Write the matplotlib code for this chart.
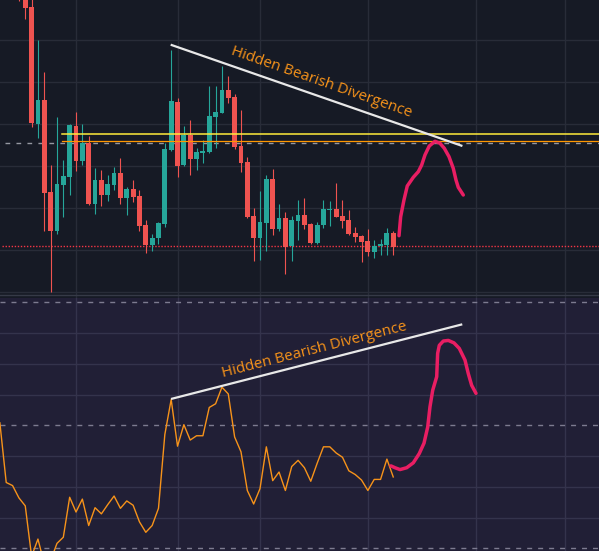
#------------------------------#
# IMPORT LIBRARIES
#------------------------------#

import numpy as np
import matplotlib
matplotlib.use('Agg')
import matplotlib.pyplot as plt

#------------------------------#
# DATA
#------------------------------#

# candles, one per bar (bar 0 is the first one that shows at the top)
opens = [53.5, 51.0, 49.3, 37.63, 40.0, 30.8, 26.93, 31.5, 32.33, 37.4,
         33.93, 35.67, 29.63, 32.0, 30.53, 31.5, 32.7, 30.23, 31.1, 30.4,
         27.5, 25.53, 26.2, 27.63, 35.0, 39.8, 33.5, 36.5, 34.13, 34.73,
         34.8, 38.3, 38.7, 41.0, 40.3, 35.4, 33.77, 28.4, 26.23, 27.73,
         32.1, 27.13, 28.2, 25.43, 27.93, 28.5, 27.6, 25.73, 27.5, 29.03,
         29.1, 28.4, 28.0, 26.7, 26.4, 25.9, 24.83, 25.43, 25.53, 26.7]
highs = [54.0, 51.5, 50.2, 46.0, 42.8, 33.5, 38.3, 34.0, 37.6, 38.8,
         37.6, 36.4, 33.2, 33.0, 32.5, 33.3, 34.2, 31.3, 32.0, 31.0,
         28.0, 26.6, 27.83, 35.67, 45.0, 40.2, 37.4, 38.0, 35.2, 36.0,
         41.4, 41.4, 43.4, 42.4, 40.6, 39.0, 34.33, 29.2, 30.9, 32.5,
         33.1, 29.6, 28.8, 28.4, 30.0, 30.2, 27.7, 27.8, 30.0, 29.9,
         31.7, 30.0, 29.0, 27.3, 26.5, 27.1, 26.0, 26.1, 27.2, 26.9]
lows = [49.9, 48.1, 37.33, 36.23, 26.93, 20.83, 26.63, 28.33, 30.53, 32.93,
        33.53, 29.53, 28.63, 29.43, 29.93, 31.03, 29.63, 28.53, 29.83, 26.93,
        24.73, 24.93, 25.63, 27.33, 34.9, 32.33, 33.4, 32.53, 33.03, 33.73,
        34.73, 35.23, 38.7, 39.7, 35.1, 32.8, 28.2, 23.93, 24.03, 24.93,
        26.53, 26.93, 22.63, 23.93, 26.03, 27.13, 25.63, 25.63, 27.2, 27.43,
        28.3, 27.23, 26.53, 25.83, 23.83, 24.43, 24.23, 24.53, 24.53, 24.53]
closes = [51.2, 49.2, 37.73, 40.0, 30.73, 26.93, 31.6, 32.4, 37.5, 33.93,
          35.67, 29.63, 32.0, 30.53, 31.6, 32.7, 30.23, 31.1, 30.33, 27.43,
          25.53, 26.2, 27.73, 35.1, 39.9, 33.4, 36.5, 34.13, 34.8, 34.9,
          38.4, 38.8, 41.0, 40.2, 35.3, 33.7, 28.33, 26.23, 27.83, 32.1,
          27.13, 28.2, 25.33, 28.0, 28.5, 27.53, 25.73, 27.5, 29.1, 29.1,
          28.3, 27.93, 26.63, 26.33, 25.83, 24.83, 25.43, 25.6, 26.7, 25.33]

# oscillator, starts three bars before the first candle
rsi_start = -3
rsi = [50.4, 40.7, 40.2,
       38.2, 36.9, 28.7, 31.5, 27.5, 28.0, 30.8, 31.8, 38.3, 35.9,
       38.0, 33.7, 36.6, 35.6, 37.1, 38.5, 36.5, 37.7, 37.0, 34.3,
       32.6, 33.7, 36.5, 48.5, 54.2, 46.6, 50.1, 47.6, 48.3, 48.3,
       52.9, 53.5, 56.2, 55.1, 48.1, 45.7, 39.4, 37.2, 39.7, 46.5,
       41.0, 42.4, 39.4, 43.3, 44.3, 43.1, 40.9, 43.8, 46.5, 46.5,
       45.5, 44.8, 42.6, 42.0, 41.1, 39.4, 41.2, 41.2, 44.5, 41.6]

# horizontal levels on the price chart
yellow_level = 36.57
orange_level = 35.87
gray_level = 35.67
red_level = 25.37

# divergence lines (bar, value)
price_div_bars = [23.92, 69.9]
price_div_vals = [45.53, 35.4]
rsi_div_bars = [23.97, 69.88]
rsi_div_vals = [54.28, 66.42]
div_label = 'Hidden Bearish Divergence'

# hand drawn forecast paths (bar, value)
price_path_bars = [59.91, 60.17, 60.69, 61.21, 62.16, 62.95, 63.48, 64.0, 64.68,
                   65.58, 66.37, 67.05, 67.79, 68.46, 68.89, 69.25, 70.04]
price_path_vals = [26.43, 28.33, 30.0, 31.4, 32.27, 32.83, 33.5, 34.5, 35.4,
                   35.87, 35.67, 35.17, 34.33, 33.17, 32.0, 31.27, 30.5]
rsi_path_bars = [58.64, 59.28, 60.06, 61.12, 62.16, 63.1, 63.85, 64.43, 64.79,
                 65.22, 65.85, 66.0, 66.26, 66.89, 67.68, 68.57, 69.41, 70.31,
                 70.83, 71.36, 72.04]
rsi_path_vals = [43.4, 43.1, 42.8, 43.1, 43.9, 45.4, 47.1, 49.7, 53.0,
                 55.7, 57.9, 61.7, 63.0, 63.7, 63.8, 63.4, 62.5, 60.6,
                 58.4, 56.5, 55.2]

# grid
time_grid = [9, 25, 38, 55, 72, 86]
price_grid = [20.8, 25.0, 29.2, 33.4, 37.6, 41.8, 46.0]
rsi_grid = [35, 40, 45, 55, 60, 65]
rsi_levels = [30, 50, 70]

#------------------------------#
# STYLE
#------------------------------#

BG_TOP = '#161a25'
BG_BOT = '#211f36'
GRID_TOP = '#282c38'
GRID_BOT = '#34334c'
UP = '#26a69a'
DOWN = '#ef5350'
ORANGE = '#f7931a'
PINK = '#e91e63'
XLIM = (-2.98, 91.43)

#------------------------------#
# PLOTTING FUNCTIONS
#------------------------------#


def plot_candles(ax):
    '''
    INPUT:  ax = price axes
    OUTPUT: candles, levels, divergence line and forecast path
    '''
    ax.set_facecolor(BG_TOP)
    for g in price_grid:
        ax.axhline(g, color=GRID_TOP, lw=1, zorder=0)
    for t in time_grid:
        ax.axvline(t, color=GRID_TOP, lw=1, zorder=0)
    ax.axhline(20.47, color='#363a47', lw=1, zorder=0)

    o = np.array(opens)
    c = np.array(closes)
    x = np.arange(len(o))
    colors = np.where(c >= o, UP, DOWN)
    ax.vlines(x, lows, highs, colors=colors, lw=0.8, zorder=2)
    body = np.maximum(np.abs(c - o), 0.12)
    ax.bar(x, body, bottom=np.minimum(o, c), width=0.76, color=colors,
           lw=0, zorder=3)

    ax.plot([6.8, XLIM[1]], [yellow_level] * 2, color='#ffeb3b', lw=1.1, zorder=4)
    ax.plot([6.8, XLIM[1]], [orange_level] * 2, color='#ff9800', lw=0.9, zorder=4)
    ax.plot([-2.2, XLIM[1]], [gray_level] * 2, color='#9598a1', lw=1,
            dashes=(3.4, 4.5), zorder=1)
    ax.plot([-2.6, XLIM[1]], [red_level] * 2, color='#f23645', lw=1,
            dashes=(1.0, 1.2), zorder=1)

    ax.plot(price_div_bars, price_div_vals, color='#e8e8e8', lw=1.6,
            solid_capstyle='butt', zorder=5)
    ax.text(47.61, 41.8, div_label, color=ORANGE, fontsize=10.9,
            family='Open Sans', rotation=-19.2, rotation_mode='anchor',
            ha='center', va='center', zorder=6)
    ax.plot(price_path_bars, price_path_vals, color=PINK, lw=2.5,
            solid_capstyle='round', solid_joinstyle='round', zorder=6)

    ax.set_xlim(XLIM)
    ax.set_ylim(20.25, 50)


def plot_rsi(ax):
    '''
    INPUT:  ax = oscillator axes
    OUTPUT: oscillator line, levels, divergence line and forecast path
    '''
    ax.set_facecolor(BG_BOT)
    for g in rsi_grid:
        ax.axhline(g, color=GRID_BOT, lw=1, zorder=0)
    for t in time_grid:
        ax.axvline(t, color=GRID_BOT, lw=1, zorder=0)
    for lvl in rsi_levels:
        ax.axhline(lvl, color='#7d7b90', lw=1, dashes=(3.6, 4.3), zorder=1)

    x = np.arange(rsi_start, rsi_start + len(rsi))
    ax.plot(x, rsi, color=ORANGE, lw=1.0, zorder=3)

    ax.plot(rsi_div_bars, rsi_div_vals, color='#e8e8e8', lw=1.6,
            solid_capstyle='butt', zorder=5)
    ax.text(46.59, 62.16, div_label, color=ORANGE, fontsize=10.9,
            family='Open Sans', rotation=14.4, rotation_mode='anchor',
            ha='center', va='center', zorder=6)
    ax.plot(rsi_path_bars, rsi_path_vals, color=PINK, lw=2.5,
            solid_capstyle='round', solid_joinstyle='round', zorder=6)

    ax.set_xlim(XLIM)
    ax.set_ylim(29.56, 70.78)


fig = plt.figure(figsize=(5.99, 5.51), dpi=100)
fig.patch.set_facecolor(BG_TOP)
ax1 = fig.add_axes([0, 1 - 297.5 / 551, 1, 297.5 / 551])
ax2 = fig.add_axes([0, 0, 1, 253.5 / 551])
for ax in (ax1, ax2):
    ax.set_xticks([])
    ax.set_yticks([])
    for s in ax.spines.values():
        s.set_visible(False)

plot_candles(ax1)
plot_rsi(ax2)

fig.savefig('out.png', dpi=100, facecolor=fig.get_facecolor())
